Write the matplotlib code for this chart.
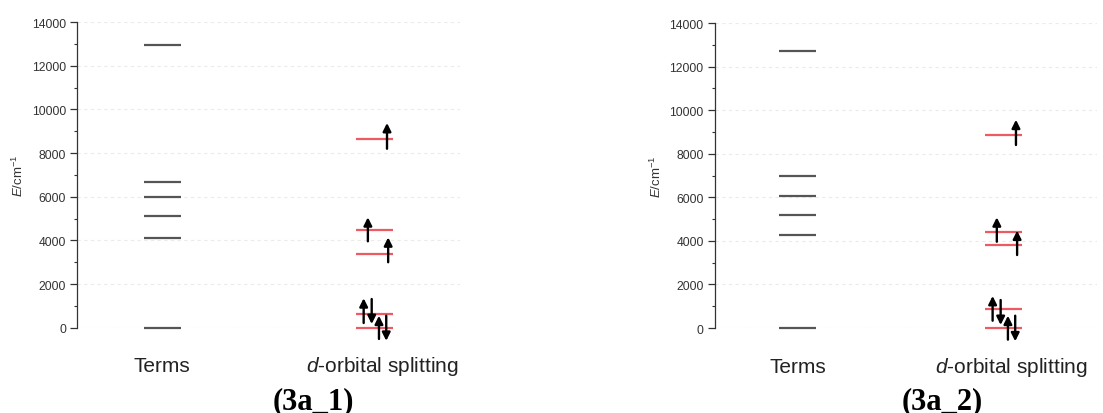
"""Energy level diagrams: terms vs d-orbital splitting for 3a_1 and 3a_2"""

import matplotlib.pyplot as plt
from matplotlib.ticker import MultipleLocator

plt.rcParams['font.family'] = ['Liberation Sans', 'DejaVu Sans']
plt.rcParams['mathtext.fontset'] = 'custom'
plt.rcParams['mathtext.rm'] = 'Liberation Sans'
plt.rcParams['mathtext.it'] = 'Liberation Sans:italic'

# energies in cm-1
categories = ["Terms", "$d$-orbital splitting"]
captions = ["(3a_1)", "(3a_2)"]

terms_3a1 = [0, 4120, 5100, 5970, 6670, 12975]
orbitals_3a1 = [0, 610, 3390, 4460, 8670]
terms_3a2 = [0, 4270, 5200, 6070, 6960, 12730]
orbitals_3a2 = [0, 870, 3820, 4420, 8870]

# electron arrows: start and end energy (up arrows go up, down arrows go down)
spin_start_3a1 = [8200, 3960, 3000, 215, 1315, -515, 550]
spin_end_3a1 = [9380, 5060, 4140, 1350, 170, 550, -600]
spin_start_3a2 = [8400, 3960, 3350, 335, 1285, -535, 565]
spin_end_3a2 = [9560, 5080, 4470, 1470, 140, 565, -610]

# horizontal offset of each arrow from the orbital column centre (layout only)
spin_dx = [0.32, -0.18, 0.35, -0.29, -0.08, 0.11, 0.30]

panels = [
    dict(terms=terms_3a1, orbs=orbitals_3a1, s0=spin_start_3a1, s1=spin_end_3a1,
         cap=captions[0], rect=[0.0698, 0.206, 0.347, 0.738], xpos=(2.23, 7.78), capx=0.284),
    dict(terms=terms_3a2, orbs=orbitals_3a2, s0=spin_start_3a2, s1=spin_end_3a2,
         cap=captions[1], rect=[0.648, 0.2053, 0.347, 0.7367], xpos=(2.17, 7.55), capx=0.854),
]

fig = plt.figure(figsize=(11.03, 4.14), dpi=100)

for p in panels:
    ax = fig.add_axes(p['rect'])
    x_terms, x_orbs = p['xpos']
    hw = 0.48

    for e in p['terms']:
        ax.plot([x_terms - hw, x_terms + hw], [e, e], color='#555555', lw=1.6,
                solid_capstyle='butt', zorder=3, clip_on=False)
    for e in p['orbs']:
        ax.plot([x_orbs - hw, x_orbs + hw], [e, e], color='#ee5a62', lw=1.6,
                solid_capstyle='butt', zorder=3, clip_on=False)

    for dx, y0, y1 in zip(spin_dx, p['s0'], p['s1']):
        ax.annotate("", xy=(x_orbs + dx, y1), xytext=(x_orbs + dx, y0),
                    arrowprops=dict(arrowstyle='-|>', color='black', lw=1.7,
                                    mutation_scale=12, shrinkA=0, shrinkB=0),
                    annotation_clip=False, zorder=4)

    ax.set_xlim(0, 10)
    ax.set_ylim(0, 14000)
    ax.yaxis.set_major_locator(MultipleLocator(2000))
    ax.yaxis.set_minor_locator(MultipleLocator(1000))
    ax.grid(axis='y', which='major', color='#ebebeb', lw=0.8, ls=(0, (3, 3)), zorder=0)

    ax.set_xticks([])
    for xc, name in zip([x_terms, x_orbs + 0.2], categories):
        ax.text(xc, -0.125, name, transform=ax.get_xaxis_transform(), ha='center',
                va='center', fontsize=15, color='#222222')
    ax.tick_params(axis='y', which='major', length=5, width=0.9, pad=3,
                   labelsize=8.7, colors='#333333', direction='out')
    ax.tick_params(axis='y', which='minor', length=2.5, width=0.8, colors='#333333')
    ax.set_ylabel("$E$/cm$^{-1}$", fontsize=9.5, color='#333333', labelpad=4)

    for side in ['top', 'right', 'bottom']:
        ax.spines[side].set_visible(False)
    ax.spines['left'].set_color('#333333')
    ax.spines['left'].set_linewidth(0.9)

    fig.text(p['capx'], 0.012, p['cap'], ha='center', va='baseline',
             fontsize=22, fontweight='bold', family='Liberation Serif')

fig.savefig("out.png", dpi=100)
